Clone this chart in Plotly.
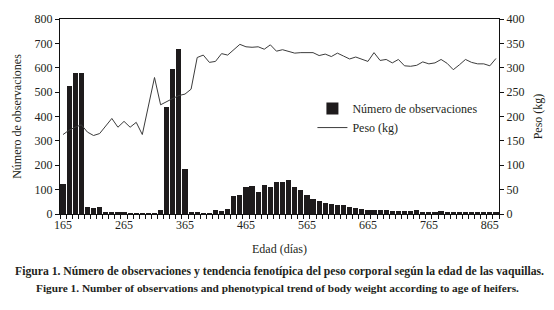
import plotly.graph_objects as go

# Categories: age (days), 10-day classes
edad = [165 + 10 * i for i in range(72)]

# Number of observations per age class (left axis)
n_obs = [122, 527, 580, 580, 28, 24, 29, 10, 10, 8,
         5, 2, 2, 2, 2, 2, 18, 441, 593, 676,
         183, 5, 10, 2, 2, 18, 14, 22, 72, 80,
         109, 113, 89, 121, 109, 130, 130, 138, 109, 97,
         80, 60, 55, 47, 40, 36, 38, 28, 25, 20,
         17, 16, 16, 16, 14, 14, 12, 12, 18, 10,
         8, 8, 11, 8, 7, 7, 7, 7, 7, 7,
         7, 7]

# Body weight (kg) per age class (right axis)
peso = [163, 172, 178, 183, 168, 161, 165, 180, 196, 178,
        190, 178, 188, 163, 222, 280, 224, 231, 237, 243,
        246, 256, 321, 326, 311, 313, 329, 326, 337, 348,
        343, 342, 343, 338, 347, 334, 337, 333, 330, 331,
        331, 331, 325, 328, 323, 330, 324, 318, 322, 318,
        313, 331, 315, 317, 310, 317, 304, 303, 305, 312,
        308, 310, 317, 309, 296, 306, 317, 311, 308, 308,
        304, 319]

x_ticks = [165, 265, 365, 465, 565, 665, 765, 865]
y_ticks = [0, 100, 200, 300, 400, 500, 600, 700, 800]
y2_ticks = [0, 50, 100, 150, 200, 250, 300, 350, 400]

TXT = "#231f20"
FONT = "Liberation Serif"

W, H = 554, 310
L, R, T, B = 60, 55, 19, 96
ph = H - T - B

def py(ypix):
    return (H - B - ypix) / ph

fig = go.Figure()
fig.add_trace(go.Bar(
    x=edad, y=n_obs, width=8.5, name="Número de observaciones",
    marker=dict(color="#1e1b1c", line=dict(width=0)), yaxis="y"))
fig.add_trace(go.Scatter(
    x=edad, y=peso, mode="lines", name="Peso (kg)",
    line=dict(color="#3c3c3c", width=1), yaxis="y2"))

fig.update_layout(
    width=W, height=H,
    margin=dict(l=L, r=R, t=T, b=B, autoexpand=False),
    paper_bgcolor="white", plot_bgcolor="white",
    font=dict(family=FONT, size=12, color=TXT),
    bargap=0,
    legend=dict(x=0.575, y=0.615, xanchor="left", yanchor="top",
                bgcolor="rgba(0,0,0,0)", font=dict(size=12, family=FONT, color=TXT),
                itemwidth=30, tracegroupgap=0),
    xaxis=dict(range=[160, 880], tickmode="array", tickvals=x_ticks,
               ticktext=[str(v) for v in x_ticks], ticks="",
               showline=True, linecolor="#111", linewidth=1, mirror=True,
               showgrid=False, zeroline=False,
               minor=dict(ticks="outside", ticklen=4, tick0=160, dtick=10,
                          tickcolor="#111", showgrid=False),
               tickfont=dict(size=12, family=FONT, color=TXT),
               title=dict(text="Edad (días)", standoff=13,
                          font=dict(size=12, family=FONT, color=TXT))),
    yaxis=dict(range=[0, 800], tickmode="array", tickvals=y_ticks,
               ticks="outside", ticklen=4, tickcolor="#111",
               showline=True, linecolor="#111", linewidth=1,
               showgrid=False, zeroline=False,
               tickfont=dict(size=12, family=FONT, color=TXT),
               title=dict(text="Número de observaciones", standoff=10,
                          font=dict(size=12, family=FONT, color=TXT))),
    yaxis2=dict(range=[0, 400], tickmode="array", tickvals=y2_ticks,
                overlaying="y", side="right",
                ticks="outside", ticklen=4, tickcolor="#111",
                showline=True, linecolor="#111", linewidth=1,
                showgrid=False, zeroline=False,
                tickfont=dict(size=12, family=FONT, color=TXT),
                title=dict(text="Peso (kg)", standoff=10,
                           font=dict(size=12, family=FONT, color=TXT))),
)

fig.add_annotation(
    text="<b>Figura 1. Número de observaciones y tendencia fenotípica del peso corporal según la edad de las vaquillas.</b>",
    xref="paper", yref="paper", x=(279 - L) / (W - L - R), y=py(271),
    xanchor="center", yanchor="middle", showarrow=False,
    font=dict(size=11.7, family=FONT, color=TXT))
fig.add_annotation(
    text="<b>Figure 1. Number of observations and phenotypical trend of body weight according to age of heifers.</b>",
    xref="paper", yref="paper", x=(277 - L) / (W - L - R), y=py(288),
    xanchor="center", yanchor="middle", showarrow=False,
    font=dict(size=11.3, family=FONT, color=TXT))

fig.write_html("out.html",
               config={"displayModeBar": False},
               post_script="document.body.style.margin='0';document.body.style.overflow='hidden';")
